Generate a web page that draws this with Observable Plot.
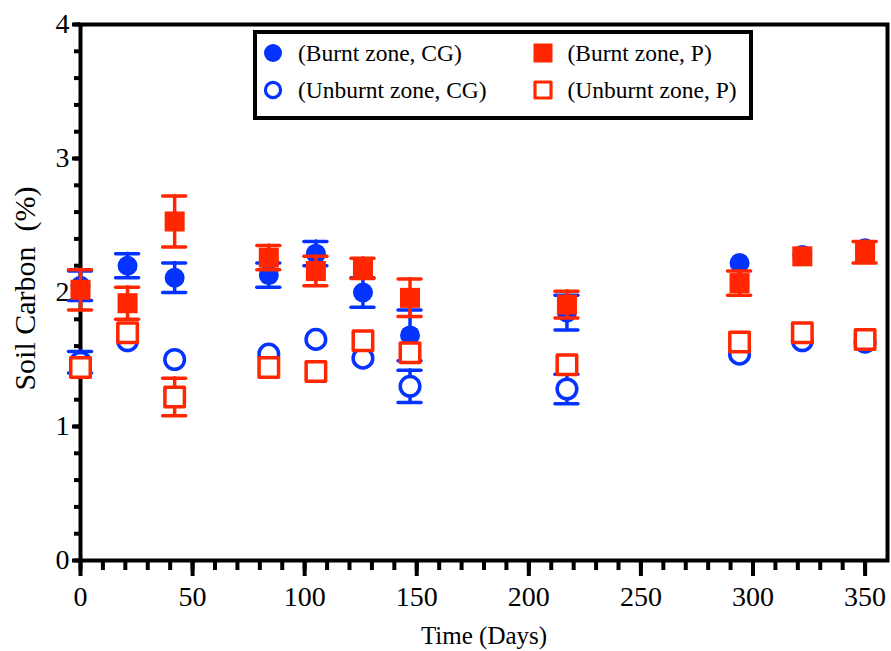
<!DOCTYPE html>
<html>
<head>
<meta charset="utf-8">
<script src="https://cdn.jsdelivr.net/npm/d3@7"></script>
<script src="https://cdn.jsdelivr.net/npm/@observablehq/plot@0.6"></script>
<style>
  body { margin: 0; background: #fff; }
  #chart { position: relative; width: 891px; height: 651px; font-family: "Liberation Serif", "Times New Roman", serif; }
  #chart svg text { font-family: "Liberation Serif", "Times New Roman", serif !important; }
  .legend { position: absolute; left: 253px; top: 30px; width: 500px; height: 90px; border: 4px solid #000; box-sizing: border-box; background: #fff; }
  .item { position: absolute; display: flex; align-items: center; height: 28px; font-size: 23.5px; white-space: nowrap; color: #000; }
  .item svg { flex: none; margin-right: 13px; }
</style>
</head>
<body>
<div id="chart"></div>
<script>
// Sampling days
const days = [0, 21, 42, 84, 105, 126, 147, 217, 294, 322, 350];

// Soil carbon (%) means and error half-widths per zone / vegetation
const burntCG      = [2.05, 2.20, 2.11, 2.13, 2.29, 2.00, 1.68, 1.85, 2.22, 2.28, 2.33];
const burntCGErr   = [0.11, 0.09, 0.11, 0.09, 0.09, 0.11, 0.19, 0.13, 0, 0, 0];
const unburntCG    = [1.48, 1.64, 1.50, 1.54, 1.65, 1.51, 1.30, 1.28, 1.54, 1.64, 1.63];
const unburntCGErr = [0.08, 0, 0, 0, 0, 0, 0.12, 0.11, 0, 0, 0];
const burntP       = [2.02, 1.92, 2.53, 2.26, 2.16, 2.18, 1.96, 1.91, 2.07, 2.27, 2.30];
const burntPErr    = [0.15, 0.12, 0.19, 0.09, 0.11, 0.075, 0.14, 0.10, 0.09, 0, 0.08];
const unburntP     = [1.44, 1.70, 1.22, 1.44, 1.41, 1.64, 1.55, 1.46, 1.63, 1.70, 1.65];
const unburntPErr  = [0, 0, 0.14, 0, 0, 0, 0, 0, 0, 0, 0];

const seriesLabels = ["(Burnt zone, CG)", "(Unburnt zone, CG)", "(Burnt zone, P)", "(Unburnt zone, P)"];

// Axis ticks
const xMajor = [0, 50, 100, 150, 200, 250, 300, 350];
const xMinor = d3.range(0, 351, 10);
const yMajor = [0, 1, 2, 3, 4];
const yMinor = d3.range(0, 4.001, 0.2);

const BLUE = "#0433FF";
const RED = "#FF2600";
const SERIF = "'Liberation Serif', 'Times New Roman', serif";

const series = [
  { label: seriesLabels[0], values: burntCG,   errors: burntCGErr,   color: BLUE, shape: "circle", filled: true },
  { label: seriesLabels[1], values: unburntCG, errors: unburntCGErr, color: BLUE, shape: "circle", filled: false },
  { label: seriesLabels[2], values: burntP,    errors: burntPErr,    color: RED,  shape: "square", filled: true },
  { label: seriesLabels[3], values: unburntP,  errors: unburntPErr,  color: RED,  shape: "square", filled: false }
];

function rowsOf(s) {
  return days.map((day, i) => ({
    day, value: s.values[i], err: s.errors[i],
    lo: s.values[i] - s.errors[i], hi: s.values[i] + s.errors[i]
  }));
}

const seriesMarks = series.flatMap(s => {
  const rows = rowsOf(s);
  const bars = rows.filter(d => d.err > 0);
  const barStyle = { stroke: s.color, strokeWidth: 3.5, strokeLinecap: "round" };
  const r = s.shape === "circle" ? (s.filled ? 10 : 9.8) : (s.filled ? 11.3 : 11);
  return [
    Plot.ruleX(bars, { x: "day", y1: "lo", y2: "hi", ...barStyle }),
    Plot.ruleY(bars, { y: "lo", x1: "day", x2: "day", insetLeft: -11.5, insetRight: -11.5, ...barStyle }),
    Plot.ruleY(bars, { y: "hi", x1: "day", x2: "day", insetLeft: -11.5, insetRight: -11.5, ...barStyle }),
    Plot.dot(rows, {
      x: "day", y: "value", r, symbol: s.shape,
      fill: s.filled ? s.color : "#fff",
      stroke: s.filled ? "none" : s.color,
      strokeWidth: s.filled ? 0 : 3.5,
      strokeLinejoin: "round"
    })
  ];
});

const plot = Plot.plot({
  width: 891,
  height: 651,
  marginLeft: 80,
  marginRight: 4,
  marginTop: 24,
  marginBottom: 91,
  style: { fontFamily: SERIF, color: "#000", background: "#fff", overflow: "visible" },
  x: { domain: [0, 360] },
  y: { domain: [0, 4] },
  marks: [
    Plot.axisX({ ticks: xMinor, tickSize: 10, strokeWidth: 4, tickFormat: () => "", label: null }),
    Plot.axisX({ ticks: xMajor, tickSize: 16, strokeWidth: 4, tickPadding: 10, fontSize: 28, fontFamily: SERIF, tickFormat: d3.format("d"), label: null }),
    Plot.axisY({ ticks: yMinor, tickSize: 6, strokeWidth: 4, tickFormat: () => "", label: null }),
    Plot.axisY({ ticks: yMajor, tickSize: 8, strokeWidth: 4, tickPadding: 3, fontSize: 28, fontFamily: SERIF, tickFormat: d3.format("d"), label: null }),
    Plot.frame({ stroke: "#000", strokeWidth: 4 }),
    ...seriesMarks,
    Plot.text(["Time (Days)"], { frameAnchor: "bottom", textAnchor: "middle", lineAnchor: "middle", dy: 75, fontSize: 25, fontFamily: SERIF, fill: "#000" }),
    Plot.text(["Soil Carbon\u00A0 (%)"], { frameAnchor: "left", textAnchor: "middle", lineAnchor: "middle", rotate: -90, dx: -55, dy: -4, fontSize: 30, fontFamily: SERIF, fill: "#000" })
  ]
});

const chart = d3.select("#chart");
chart.node().appendChild(plot);

// Legend box inside the plotting area
const legend = chart.append("div").attr("class", "legend");
const itemPos = [[4, 5], [4, 42], [273.5, 5], [273.5, 42]];
series.forEach((s, i) => {
  const item = legend.append("div").attr("class", "item")
    .style("left", itemPos[i][0] + "px").style("top", itemPos[i][1] + "px");
  const svg = item.append("svg").attr("width", 24).attr("height", 24);
  if (s.shape === "circle") {
    svg.append("circle").attr("cx", 12).attr("cy", 12)
      .attr("r", s.filled ? 9 : 7.6)
      .attr("fill", s.filled ? s.color : "#fff")
      .attr("stroke", s.filled ? "none" : s.color)
      .attr("stroke-width", 3.2);
  } else {
    const side = s.filled ? 19 : 16;
    svg.append("rect").attr("x", 12 - side / 2).attr("y", 12 - side / 2)
      .attr("width", side).attr("height", side)
      .attr("fill", s.filled ? s.color : "#fff")
      .attr("stroke", s.filled ? "none" : s.color)
      .attr("stroke-width", 3.2)
      .attr("stroke-linejoin", "round");
  }
  item.append("span").text(s.label);
});
</script>
</body>
</html>
